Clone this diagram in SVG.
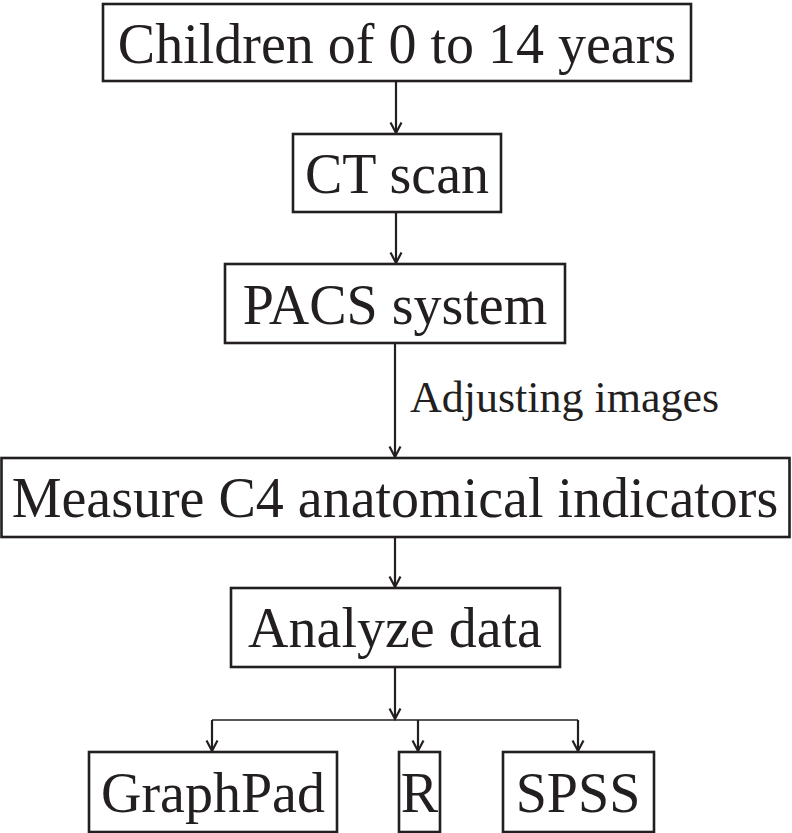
<svg xmlns="http://www.w3.org/2000/svg" width="792" height="833" viewBox="0 0 792 833">
<style>
.box{fill:#fff;stroke:#231f20;stroke-width:2.6}
.t{font-family:"Liberation Serif","Times New Roman",serif;font-size:56px;fill:#231f20;text-anchor:middle}
.lbl{font-family:"Liberation Serif","Times New Roman",serif;font-size:44px;fill:#231f20}
.c{stroke:#231f20;stroke-width:2.2;fill:none}
.h{stroke:#231f20;stroke-width:1.6;fill:none}
</style>
<defs>
<marker id="arr" markerUnits="userSpaceOnUse" orient="auto" refX="0" refY="0" markerWidth="14" markerHeight="14" overflow="visible">
<path d="M -10.5 -5.5 L 0 0 L -10.5 5.5" fill="none" stroke="#231f20" stroke-width="2.2"/>
</marker>
</defs>
<rect width="792" height="833" fill="#fff"/>
<g id="connectors">
<line class="c" x1="396" y1="81" x2="396" y2="133" marker-end="url(#arr)"/>
<line class="c" x1="396" y1="212" x2="396" y2="263" marker-end="url(#arr)"/>
<line class="c" x1="395" y1="343" x2="395" y2="457" marker-end="url(#arr)"/>
<text class="lbl" x="410" y="412">Adjusting images</text>
<line class="c" x1="395" y1="537" x2="395" y2="587" marker-end="url(#arr)"/>
<line class="c" x1="395" y1="667" x2="395" y2="719" marker-end="url(#arr)"/>
<line class="h" x1="212" y1="720" x2="578" y2="720"/>
<line class="c" x1="212" y1="720" x2="212" y2="751" marker-end="url(#arr)"/>
<line class="c" x1="418" y1="720" x2="418" y2="751" marker-end="url(#arr)"/>
<line class="c" x1="578" y1="720" x2="578" y2="751" marker-end="url(#arr)"/>
</g>
<g id="children">
<rect class="box" x="103" y="4" width="588" height="77"/>
<text class="t" x="397" y="63">Children of 0 to 14 years</text>
</g>
<g id="ct">
<rect class="box" x="293" y="134" width="208" height="78"/>
<text class="t" x="397" y="193">CT scan</text>
</g>
<g id="pacs">
<rect class="box" x="225" y="264" width="340" height="79"/>
<text class="t" x="395" y="324">PACS system</text>
</g>
<g id="measure">
<rect class="box" x="1.5" y="458" width="788" height="79"/>
<text class="t" x="395" y="517">Measure C4 anatomical indicators</text>
</g>
<g id="analyze">
<rect class="box" x="231" y="588" width="329" height="79"/>
<text class="t" x="395" y="647">Analyze data</text>
</g>
<g id="graphpad">
<rect class="box" x="89" y="752" width="248" height="80"/>
<text class="t" x="213" y="812">GraphPad</text>
</g>
<g id="r">
<rect class="box" x="399" y="752" width="41" height="80"/>
<text class="t" x="419.5" y="812">R</text>
</g>
<g id="spss">
<rect class="box" x="503" y="752" width="151" height="80"/>
<text class="t" x="578" y="812">SPSS</text>
</g>
</svg>
